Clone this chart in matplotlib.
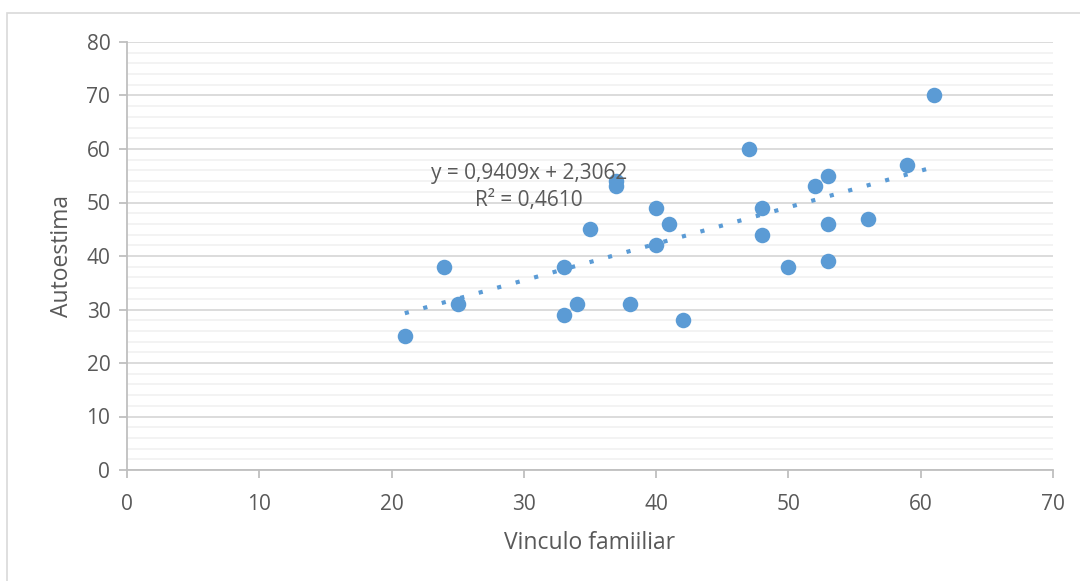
import numpy as np
import matplotlib
matplotlib.use("Agg")
import matplotlib.pyplot as plt
from matplotlib.patches import Rectangle

plt.rcParams["font.family"] = ["Open Sans", "DejaVu Sans"]

# data
vinculo = [21, 24, 25, 33, 33, 34, 35, 37, 37, 38, 40, 40, 41, 42,
           47, 48, 48, 50, 52, 53, 53, 53, 56, 59, 61]
autoestima = [25, 38, 31, 38, 29, 31, 45, 54, 53, 31, 49, 42, 46, 28,
              60, 49, 44, 38, 53, 55, 46, 39, 47, 57, 70]
eq_label = "y = 0,9409x + 2,3062\nR² = 0,4610"
x_ticks = [0, 10, 20, 30, 40, 50, 60, 70]
y_ticks = [0, 10, 20, 30, 40, 50, 60, 70, 80]

blue = "#5b9bd5"
txt = "#595959"

fig = plt.figure(figsize=(10.8, 5.81), dpi=100)
ax = fig.add_axes([127 / 1080, 111 / 581, 926 / 1080, 428 / 581])

# chart area border (Excel style)
fig.patches.append(Rectangle((7 / 1080, -0.05), 1.2, (581 - 13) / 581 + 0.05,
                             transform=fig.transFigure, fill=False,
                             edgecolor="#d9d9d9", linewidth=1.2))

ax.scatter(vinculo, autoestima, s=125, color=blue, zorder=3, linewidths=0)

# linear trendline
coef = np.polyfit(vinculo, autoestima, 1)
xl = np.array([min(vinculo), max(vinculo)])
ax.plot(xl, np.polyval(coef, xl), color=blue, linewidth=3.0,
        linestyle=(0, (1, 3.6)), dash_capstyle="butt", zorder=2)

ax.text(30.4, 52.9, eq_label, ha="center", va="center", multialignment="center",
        fontsize=15, color=txt, zorder=4, linespacing=1.4)

ax.set_xlim(0, 70)
ax.set_ylim(0, 80)
ax.set_xticks(x_ticks)
ax.set_yticks(y_ticks)
ax.set_yticks(np.arange(0, 81, 2), minor=True)
ax.grid(which="major", axis="y", color="#d9d9d9", linewidth=1.3, zorder=0)
ax.grid(which="minor", axis="y", color="#f2f2f2", linewidth=1.3, zorder=0)
ax.set_axisbelow(True)

for side in ["top", "right"]:
    ax.spines[side].set_visible(False)
for side in ["left", "bottom"]:
    ax.spines[side].set_color("#bfbfbf")
    ax.spines[side].set_linewidth(1.3)

ax.tick_params(which="major", length=6, width=1.3, color="#bfbfbf",
               labelsize=15, labelcolor=txt, pad=6)
ax.tick_params(which="minor", length=0)
ax.tick_params(axis="x", pad=11)

ax.set_xlabel("Vinculo famiiliar", fontsize=16.5, color=txt, labelpad=12)
ax.set_ylabel("Autoestima", fontsize=16.5, color=txt, labelpad=9)

fig.savefig("out.png", dpi=100)
